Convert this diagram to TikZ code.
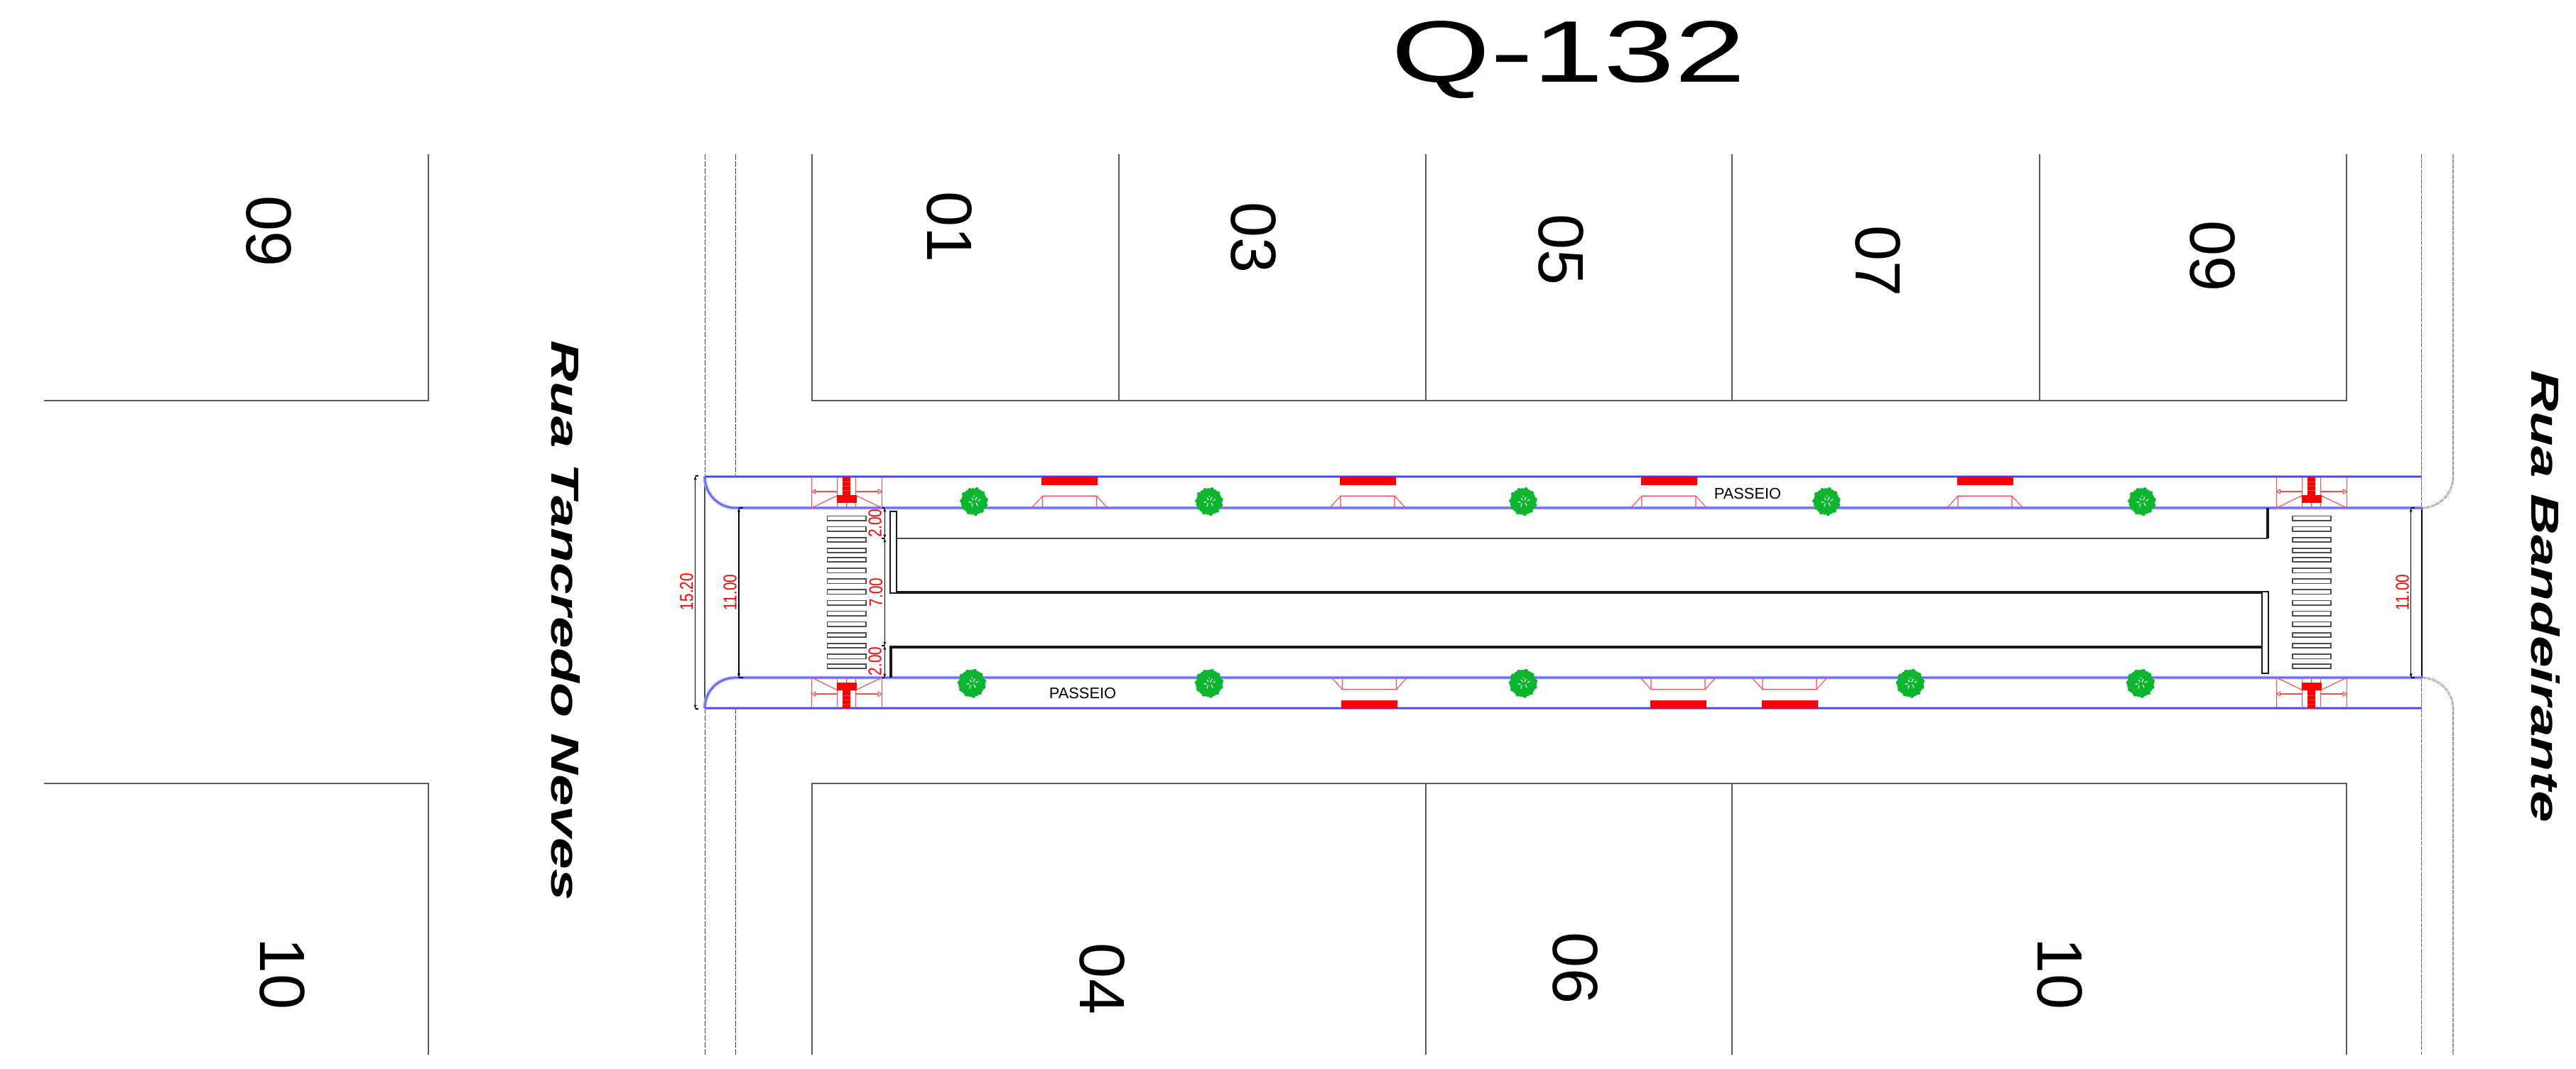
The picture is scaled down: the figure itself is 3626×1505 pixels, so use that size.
\documentclass[tikz,border=0pt]{standalone}
\usepackage{fontspec}
\usepackage{graphicx}
\setmainfont{Liberation Sans}
\usetikzlibrary{arrows.meta}
\definecolor{lotline}{HTML}{5A5A5A}
\definecolor{bluelight}{HTML}{A6A6FF}
\definecolor{bluedark}{HTML}{4646FF}
\definecolor{redlight}{HTML}{FF4A4A}
\definecolor{treegreen}{HTML}{0CB52E}
\tikzset{
  lot/.style={draw=lotline,line width=.75pt},
  dashline/.style={draw=black!75,line width=.5pt,dash pattern=on 4pt off 1pt},
  dashdbl/.style={draw=black!60,line width=.35pt,double=white,double distance=.45pt,dash pattern=on 3pt off .6pt},
  curbglow/.style={draw=bluelight,line width=2.4pt},
  curbcore/.style={draw=bluedark,line width=.6pt},
  dimline/.style={draw=black,line width=.8pt},
  dimarrow/.style={draw=black,line width=.7pt,{Stealth[length=3pt,width=2pt]}-{Stealth[length=3pt,width=2pt]}},
  roadthin/.style={draw=black!70,line width=1.1pt},
  roadthick/.style={draw=black!90,line width=1.9pt},
  roadbox/.style={draw=black!90,line width=1pt,fill=white},
  stripe/.style={draw=black!70,line width=.8pt,fill=white},
  redthin/.style={draw=redlight,line width=.55pt},
  lotnum/.style={font=\fontsize{45pt}{46pt}\selectfont,rotate=-90,inner sep=0pt},
  dimtext/.style={font=\fontsize{13pt}{13pt}\selectfont,text=red,rotate=90,inner sep=0pt},
  walklabel/.style={font=\fontsize{10.9pt}{12pt}\selectfont,inner sep=0pt},
  street/.style={font=\fontsize{27.6pt}{28pt}\selectfont\bfseries\itshape,rotate=-90,inner sep=0pt},
}
% ramp at a crossing: #1 centre x, #2 kerb y, #3 direction into the walk (-1 up, 1 down)
\newcommand{\cornerramp}[3]{%
  \begin{scope}[shift={(#1,#2)},yscale=#3]
    \draw[redthin] (-49,0)--(-49,43) (-13,0)--(-13,43) (13,0)--(13,43) (49.5,0)--(49.5,43);
    \draw[redthin] (-49,0)--(-13,17.5) (49.5,0)--(13,17.5) (0,0)--(0,7);
    \draw[redthin] (-13,23)--(-47,23) (13,23)--(47.5,23);
    \draw[redlight,line width=.5pt,fill=white] (-49,23)--(-44,20)--(-44,26)--cycle;
    \draw[redlight,line width=.5pt,fill=white] (49.5,23)--(44.5,20)--(44.5,26)--cycle;
    \draw[redlight,line width=.5pt] (-30,22)--(-30,24) (30,22)--(30,24);
    \fill[red] (-14,7) rectangle (14,18);
    \fill[red] (-5.5,18) rectangle (5.5,43);
    \draw[redlight,line width=.4pt] (-5.5,25)--(5.5,25) (-5.5,31)--(5.5,31) (-5.5,37)--(5.5,37);
  \end{scope}}
% driveway: #1 centre x, #2 kerb y, #3 direction
\newcommand{\driveway}[3]{%
  \begin{scope}[shift={(#1,#2)},yscale=#3]
    \draw[redthin] (-53,0)--(-38,16.5)--(38,16.5)--(53,0) (-38,0)--(-38,16.5) (38,0)--(38,16.5);
    \fill[red] (-39.5,31.5) rectangle (39.5,43.5);
  \end{scope}}
\newcommand{\treemark}[2]{%
  \begin{scope}[shift={(#1,#2)}]
    \fill[treegreen] (0,0) circle (17);
    \foreach \a/\r in {0/16,17/17,33/15.5,50/17,66/16,83/17.5,100/16,116/17,133/15.5,150/17,166/16,183/17,200/15.5,216/17.5,233/16,250/17,266/16,283/17.5,300/16,316/17,333/15.5,350/17}
      \fill[treegreen] (\a:\r) circle (3);
    \draw[white,line width=.6pt,line cap=round] (-3,-5)--(-1,-2) (4,-6)--(2,-2) (6,-1)--(9,-3) (-7,1)--(-4,1) (-2,3)--(-3,7) (3,2)--(5,6) (0,-8)--(.5,-7);
  \end{scope}}
\begin{document}
\begin{tikzpicture}[x=.5pt,y=-.5pt]
\useasboundingbox (0,0) rectangle (3626,1505);
% lots
\draw[lot] (603,217)--(603,564)--(62,564);
\draw[lot] (62,1103)--(603,1103)--(603,1485);
\draw[lot] (1143,217)--(1143,564)--(3303,564)--(3303,217);
\foreach \x in {1575,2007,2438,2871} \draw[lot] (\x,217)--(\x,564);
\draw[lot] (1143,1485)--(1143,1103)--(3303,1103)--(3303,1485);
\foreach \x in {2007,2438} \draw[lot] (\x,1103)--(\x,1485);
% street edges
\draw[dashline] (992,217)--(992,671);
\draw[dashline] (1035,217)--(1035,671);
\draw[dashline] (992,997)--(992,1485);
\draw[dashline] (1035,997)--(1035,1485);
\draw[draw=black!70,line width=.6pt] (992,671)--(992,997);
\draw[dashdbl] (3409,217)--(3409,715);
\draw[dashdbl] (3409,954)--(3409,1485);
\draw[dashdbl] (3453,217)--(3453,671) .. controls (3453,695) and (3433,715) .. (3409,715);
\draw[dashdbl] (3409,954) .. controls (3433,954) and (3453,974) .. (3453,998)--(3453,1485);
\draw[draw=black,line width=.7pt] (3409,715)--(3409,954);
% kerbs
\foreach \s in {curbglow,curbcore}{
  \draw[\s] (992,671)--(3409,671);
  \draw[\s] (3409,715)--(1035,715) .. controls (1011,715) and (992,695) .. (992,671);
  \draw[\s] (3409,954)--(1035,954) .. controls (1011,954) and (992,973) .. (992,997);
  \draw[\s] (992,997)--(3409,997);
}
% carriageway
\draw[roadthin] (1262,757.7)--(3192,757.7);
\draw[roadthick] (3192,715)--(3192,757.7);
\draw[roadthick] (1262,834)--(3184,834);
\draw[roadthick] (1254,954)--(1254,911)--(3184,911);
\draw[roadbox] (1253,720) rectangle (1262.3,835);
\draw[roadbox] (3183.7,833) rectangle (3192.7,948);
% crosswalks
\foreach \v in {299,344,390,435,474,520,565,610,656,701,746,792,837,883,924}{
  \pgfmathsetmacro{\yy}{630+\v/3}
  \draw[stripe] (1164.5,\yy-3.2) rectangle (1219,\yy+3.2);
  \draw[stripe] (3226.7,\yy-3.2) rectangle (3281,\yy+3.2);
}
% ramps
\cornerramp{1191.7}{715}{-1}
\cornerramp{3253.7}{715}{-1}
\cornerramp{1191.7}{954}{1}
\cornerramp{3253.7}{954}{1}
\driveway{1505.5}{714.7}{-1}
\driveway{1925}{714.7}{-1}
\driveway{2349}{714.7}{-1}
\driveway{2794}{714.7}{-1}
\driveway{1927.5}{954}{1}
\driveway{2362}{954}{1}
\driveway{2519}{954}{1}
% trees
\foreach \x in {1371,1702,2144,2571,3015} \treemark{\x}{706}
\foreach \x in {1368,1702,2144,2689,3013} \treemark{\x}{962}
% dimensions
\coordinate (d15a) at (978.7,670);
\coordinate (d15b) at (978.7,998);
\draw[dimarrow] (d15a)--(d15b);
\draw[dimline] (d15a)--++(4,0) (d15b)--++(4,0);
\coordinate (d11a) at (1040,715);
\coordinate (d11b) at (1040,954);
\draw[dimarrow] (d11a)--(d11b);
\draw[dimline] (d11a)--++(6,0) (d11b)--++(6,0);
\coordinate (d2a) at (1245.3,715);
\coordinate (d2b) at (1245.3,758);
\coordinate (d2c) at (1245.3,909);
\coordinate (d2d) at (1245.3,954);
\draw[dimarrow] (d2a)--(d2b);
\draw[dimarrow] (d2b)--(d2c);
\draw[dimarrow] (d2c)--(d2d);
\draw[dimline] (d2a)--++(-3,0) (d2b)--++(-4,0) (d2c)--++(-4,0) (d2d)--++(-3,0);
\coordinate (d11e) at (3393.7,715);
\coordinate (d11f) at (3393.7,954);
\draw[dimarrow] (d11e)--(d11f);
\draw[dimline] (d11e)--++(5,0) (d11f)--++(5,0);
\node[dimtext] (t1520) at (966.5,833) {\scalebox{.8}[1]{15.20}};
\node[dimtext] (t1100a) at (1027.7,834) {\scalebox{.8}[1]{11.00}};
\node[dimtext] (t200a) at (1231.7,736.7) {\scalebox{.8}[1]{2.00}};
\node[dimtext] (t700) at (1233,834) {\scalebox{.8}[1]{7.00}};
\node[dimtext] (t200b) at (1231.7,931) {\scalebox{.8}[1]{2.00}};
\node[dimtext] (t1100b) at (3381.7,834) {\scalebox{.8}[1]{11.00}};
% walk labels
\node[walklabel] (p1) at (2460,695) {PASSEIO};
\node[walklabel] (p2) at (1524,976) {PASSEIO};
% lot numbers
\node[lotnum] (l09a) at (378,326) {09};
\node[lotnum] (l01) at (1336,320) {01};
\node[lotnum] (l03) at (1764,335) {03};
\node[lotnum] (l05) at (2197,352) {05};
\node[lotnum] (l07) at (2643,368) {07};
\node[lotnum] (l09b) at (3114,361) {09};
\node[lotnum] (l10a) at (397,1371) {10};
\node[lotnum] (l04) at (1551,1378) {04};
\node[lotnum] (l06) at (2217,1363) {06};
\node[lotnum] (l10b) at (2899,1371) {10};
% titles
\node[inner sep=0pt,font=\fontsize{61.5pt}{62pt}\selectfont] (title) at (2208,84) {\scalebox{1.46}[1]{Q-132}};
\node[street] (s1) at (796,874) {\scalebox{1.45}[1]{Rua Tancredo Neves}};
\node[street] (s2) at (3583,840) {\scalebox{1.45}[1]{Rua Bandeirante}};
\end{tikzpicture}
\end{document}
